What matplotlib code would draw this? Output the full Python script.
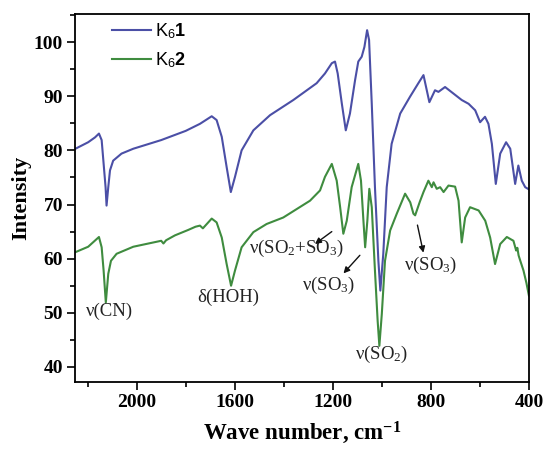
import matplotlib
matplotlib.use('Agg')
import matplotlib.pyplot as plt
from matplotlib.ticker import MultipleLocator

# ── IR spectra (wave number, intensity) ──
k61_x = [2250, 2198, 2170, 2154, 2143, 2136, 2127, 2123, 2116, 2109, 2096, 2062, 2014, 1900,
         1800, 1742, 1694, 1674, 1653, 1633, 1616, 1599, 1572, 1524, 1456, 1361, 1266,
         1232, 1204, 1191, 1180, 1163, 1147, 1130, 1109, 1096, 1082, 1071, 1060, 1052,
         1041, 1028, 1014, 1006, 994, 980, 960, 925, 885, 851, 830, 806, 783, 769, 742,
         708, 674, 646, 619, 599, 579, 565, 551, 535, 517, 493, 476, 456, 443, 429, 415,
         400]
k61_y = [80.3, 81.5, 82.4, 83.1, 81.9, 78.1, 73.2, 69.8, 73.2, 76.3, 78.1, 79.4, 80.3, 81.9,
         83.6, 84.9, 86.3, 85.6, 82.5, 76.9, 72.3, 75.1, 80.0, 83.7, 86.5, 89.3, 92.4,
         94.2, 96.1, 96.4, 94.2, 88.6, 83.7, 86.8, 93.0, 96.4, 97.3, 99.1, 102.2, 100.4,
         88.6, 73.2, 59.6, 54.1, 60.9, 73.2, 81.2, 86.8, 89.9, 92.4, 93.9, 88.9, 91.1, 90.8,
         91.7, 90.5, 89.3, 88.6, 87.4, 85.2, 86.2, 84.9, 81.2, 73.8, 79.4, 81.5, 80.3, 73.8,
         77.2, 74.4, 73.2, 72.8]

k62_x = [2250, 2198, 2154, 2143, 2135, 2126, 2116, 2105, 2082, 2014, 1900, 1891, 1880, 1844,
         1790, 1760, 1742, 1730, 1694, 1674, 1653, 1633, 1615, 1599, 1572, 1524, 1470,
         1402, 1293, 1252, 1232, 1204, 1184, 1170, 1157, 1143, 1123, 1096, 1085, 1075,
         1068, 1059, 1051, 1041, 1028, 1017, 1010, 1000, 987, 966, 939, 905, 884, 871, 864,
         845, 830, 810, 796, 789, 776, 762, 748, 728, 701, 687, 674, 660, 640, 605, 578,
         558, 538, 517, 490, 463, 452, 447, 442, 435, 422, 410, 400]
k62_y = [61.2, 62.2, 64.0, 62.1, 57.8, 51.9, 57.2, 59.6, 60.9, 62.2, 63.3, 62.8, 63.4, 64.3,
         65.3, 65.9, 66.1, 65.6, 67.4, 66.7, 63.9, 59.0, 55.0, 57.8, 62.1, 64.9, 66.4,
         67.6, 70.7, 72.6, 75.1, 77.5, 74.4, 69.5, 64.6, 67.0, 73.2, 77.5, 74.4, 67.0,
         62.1, 67.0, 72.9, 69.5, 57.8, 48.5, 43.9, 49.8, 59.6, 65.2, 68.3, 72.0, 70.4, 68.3,
         68.0, 70.5, 72.3, 74.4, 73.2, 74.1, 72.9, 73.2, 72.3, 73.5, 73.3, 70.7, 63.0, 67.6,
         69.5, 68.9, 67.0, 63.9, 59.0, 62.7, 64.0, 63.3, 61.5, 62.0, 60.6, 59.6, 57.8, 55.5,
         53.2]

# band assignments: label, text position, arrow tail, arrow head
band_labels = ['ν(CN)', 'δ(HOH)', 'ν(SO$_2$+SO$_3$)', 'ν(SO$_3$)', 'ν(SO$_2$)', 'ν(SO$_3$)']
band_pos = [(2109, 50.2), (1628, 52.8), (1350, 61.8), (1215, 55.0), (1000, 42.4), (799, 58.7)]
arrow_tail = [None, None, (1195, 65.3), (1082, 61.0), None, (857, 66.7)]
arrow_head = [None, None, (1282, 62.4), (1164, 56.9), None, (828, 60.6)]

plt.rcParams['mathtext.fontset'] = 'custom'
plt.rcParams['mathtext.rm'] = 'Liberation Serif'
plt.rcParams['mathtext.it'] = 'Liberation Serif:italic'
plt.rcParams['mathtext.sf'] = 'Liberation Sans'
plt.rcParams['mathtext.bf'] = 'Liberation Sans:bold'
plt.rcParams['mathtext.bfit'] = 'Liberation Serif:bold'

fig = plt.figure(figsize=(5.43, 4.49), dpi=100)
ax = fig.add_axes([0.138, 0.149, 0.836, 0.820])

ax.plot(k61_x, k61_y, color='#4b4fa6', lw=1.5, label=r'K$_\mathsf{6}$$\mathbf{1}$')
ax.plot(k62_x, k62_y, color='#3f8c3f', lw=1.5, label=r'K$_\mathsf{6}$$\mathbf{2}$')

ax.set_xlim(2252, 400)
ax.set_ylim(37.2, 105.2)
ax.xaxis.set_major_locator(MultipleLocator(400))
ax.xaxis.set_minor_locator(MultipleLocator(200))
ax.yaxis.set_major_locator(MultipleLocator(10))
ax.yaxis.set_minor_locator(MultipleLocator(5))
ax.tick_params(which='both', direction='out', width=1.2, top=False, right=False)
ax.tick_params(which='major', length=5.5, pad=3)
ax.tick_params(which='minor', length=3.5)
for lab in ax.get_xticklabels() + ax.get_yticklabels():
    lab.set_fontfamily('Liberation Serif')
    lab.set_fontweight('bold')
    lab.set_fontsize(14)
for sp in ax.spines.values():
    sp.set_linewidth(1.3)

ax.set_ylabel('Intensity', family='Liberation Serif', weight='bold', fontsize=16, labelpad=2)
ax.set_xlabel(r'Wave number, cm$^{\mathbfit{-1}}$', family='Liberation Serif', weight='bold',
              fontsize=16.5, labelpad=6)

for txt, pos, tail, head in zip(band_labels, band_pos, arrow_tail, arrow_head):
    ax.text(pos[0], pos[1], txt, family='Liberation Serif', fontsize=13.5,
            ha='center', va='center', color='#222')
    if tail is not None:
        ax.annotate('', xy=head, xytext=tail,
                    arrowprops=dict(arrowstyle='-|>', color='#111', lw=1.0,
                                    mutation_scale=9))

leg = ax.legend(loc='upper left', frameon=False, fontsize=13, handlelength=2.2,
                borderaxespad=0, bbox_to_anchor=(0.065, 1.0), labelspacing=0.5,
                handletextpad=0.2)
for t in leg.get_texts():
    t.set_fontfamily('Liberation Sans')

fig.savefig('out.png', dpi=100)
